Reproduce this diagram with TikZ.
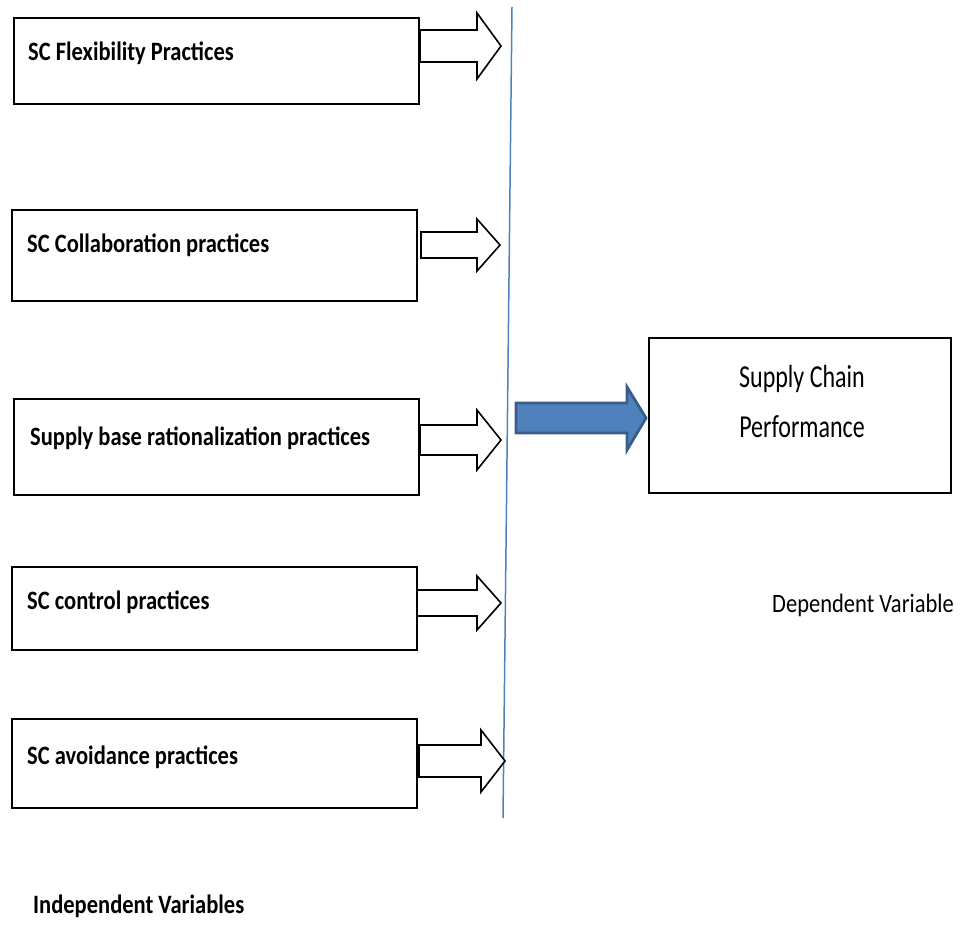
\documentclass[tikz,border=0pt]{standalone}
\usepackage{fontspec}
\setmainfont{Carlito}[FakeStretch=0.85]
\newfontfamily\perffont{Carlito}[FakeStretch=0.75]
\definecolor{accblue}{HTML}{4F81BD}
\definecolor{accdark}{HTML}{385D8A}
\begin{document}
\begin{tikzpicture}[x=1pt,y=-1pt,
  box/.style={draw=black,line width=1.6pt,anchor=north west,inner sep=0pt},
  lbl/.style={anchor=base west,inner sep=0pt,font=\bfseries\fontsize{26.5}{30}\selectfont},
  plain/.style={anchor=base west,inner sep=0pt,font=\fontsize{26.5}{30}\selectfont},
  hollow/.style={draw=black,line width=1.6pt,fill=white,line join=miter},
  bluearrow/.style={draw=accdark,line width=2.8pt,fill=accblue,line join=miter}]
\useasboundingbox (0,0) rectangle (963,924);
% boxes
\node[box,minimum width=405pt,minimum height=86pt] (b1) at (13,17) {};
\node[box,minimum width=405pt,minimum height=91pt] (b2) at (11,209) {};
\node[box,minimum width=405pt,minimum height=96pt] (b3) at (13,398) {};
\node[box,minimum width=405pt,minimum height=83pt] (b4) at (11,566) {};
\node[box,minimum width=405pt,minimum height=89pt] (b5) at (11,718) {};
\node[box,minimum width=302pt,minimum height=155pt] (perf) at (648,337) {};
% labels
\node[lbl] (t1) at (28,60) {SC Flexibility Practices};
\node[lbl] (t2) at (27,252) {SC Collaboration practices};
\node[lbl] (t3) at (30,445) {Supply base rationalization practices};
\node[lbl] (t4) at (27,609) {SC control practices};
\node[lbl] (t5) at (27,764) {SC avoidance practices};
\node[lbl] (iv) at (33,913) {Independent Variables};
\node[plain] (dv) at (772,612) {Dependent Variable};
\node[anchor=base,inner sep=0pt,font=\perffont\fontsize{32}{36}\selectfont] (p1) at (802,387) {Supply Chain};
\node[anchor=base,inner sep=0pt,font=\perffont\fontsize{32}{36}\selectfont] (p2) at (802,437) {Performance};
% divider line
\coordinate (ltop) at (512,7);
\coordinate (lbot) at (503,818);
\draw[accblue,line width=1.5pt] (ltop) -- (lbot);
% hollow arrows
\draw[hollow] (420,30) -- (477,30) -- (477,13) -- (501,46) -- (477,79) -- (477,62) -- (420,62) -- cycle;
\draw[hollow] (421,232) -- (477,232) -- (477,219) -- (500,245) -- (477,271) -- (477,258) -- (421,258) -- cycle;
\draw[hollow] (420,425) -- (477,425) -- (477,410) -- (501,440) -- (477,470) -- (477,455) -- (420,455) -- cycle;
\draw[hollow] (417,590) -- (477,590) -- (477,576) -- (501,603) -- (477,630) -- (477,616) -- (417,616) -- cycle;
\draw[hollow] (419,745) -- (481,745) -- (481,730) -- (505,761) -- (481,792) -- (481,777) -- (419,777) -- cycle;
% blue arrow
\draw[bluearrow] (516,403) -- (627,403) -- (627,387) -- (646,418) -- (627,450) -- (627,433) -- (516,433) -- cycle;
\end{tikzpicture}
\end{document}
